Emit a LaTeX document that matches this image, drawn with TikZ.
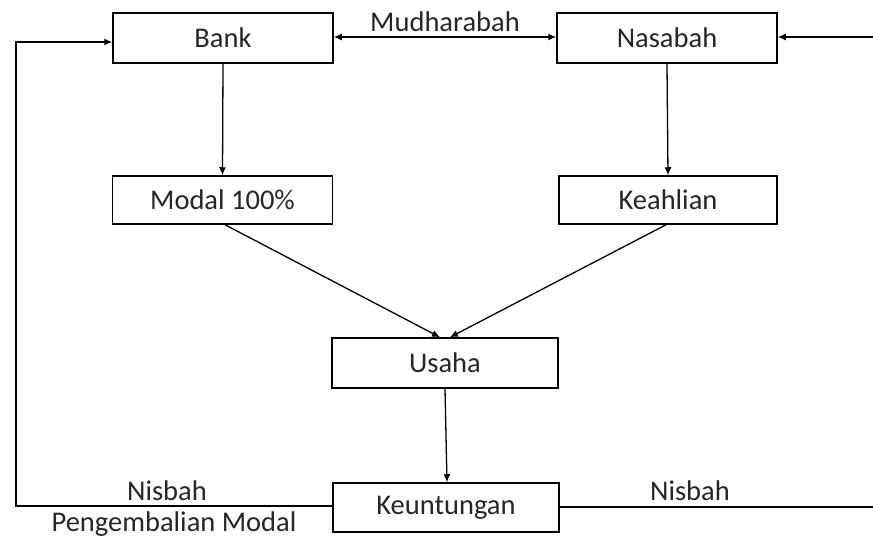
\documentclass[tikz,border=0pt]{standalone}
\usepackage{fontspec}
\setmainfont{Carlito}
\usetikzlibrary{arrows.meta}
\begin{document}
\begin{tikzpicture}[x=1pt,y=-1pt,
  font=\fontsize{28.5}{30}\selectfont,
  box/.style={draw,line width=1.5pt,minimum width=220pt,minimum height=50pt,inner sep=0pt,text=black!85},
  link/.style={line width=1.3pt,-{Latex[length=8pt,width=7pt]}},
  lbl/.style={text=black!85,inner sep=0pt}]
\useasboundingbox (0,0) rectangle (873,540);
% boxes
\node[box] (bank) at (223,38) {Bank};
\node[box] (nasabah) at (667,38) {Nasabah};
\node[box,minimum height=48pt] (modal) at (222.5,200) {Modal 100\%};
\node[box,minimum width=218pt,minimum height=48pt] (keahlian) at (668,200) {Keahlian};
\node[box,minimum width=226pt] (usaha) at (445,363) {Usaha};
\node[box,minimum width=226pt,minimum height=49pt] (keuntungan) at (446,507.5) {Keuntungan};
% free ends at the picture edges
\coordinate (edgeR) at (873,37);
\coordinate (edgeB) at (873,507);
\coordinate (cornerB) at (16,506);
\coordinate (cornerT) at (16,42);
% agreement
\draw[line width=1.3pt,{Latex[length=8pt,width=7pt]}-{Latex[length=8pt,width=7pt]}]
  (bank.east |- 0,37) -- node[lbl,above=5pt] (mudharabah) {Mudharabah} (nasabah.west |- 0,37);
% inputs
\draw[link] (bank.south) -- (modal.north);
\draw[link] (nasabah.south) -- (keahlian.north);
\draw[link] (modal.south -| 225,0) -- (usaha.north -| 440,0);
\draw[link] (keahlian.south -| 666,0) -- (usaha.north -| 450,0);
\draw[link] (usaha.south) -- (keuntungan.north -| 447,0);
% profit sharing
\draw[link] (keuntungan.west |- cornerB) -- (cornerB) -- (cornerT) -- (bank.west |- cornerT);
\draw[line width=1.3pt] (keuntungan.east |- edgeB) -- (edgeB);
\draw[link] (edgeR) -- (nasabah.east |- edgeR);
% labels
\node[lbl] (nisbahL) at (167,491) {Nisbah};
\node[lbl] (kembali) at (174,524) {Pengembalian Modal};
\node[lbl] (nisbahR) at (690,491) {Nisbah};
\end{tikzpicture}
\end{document}
